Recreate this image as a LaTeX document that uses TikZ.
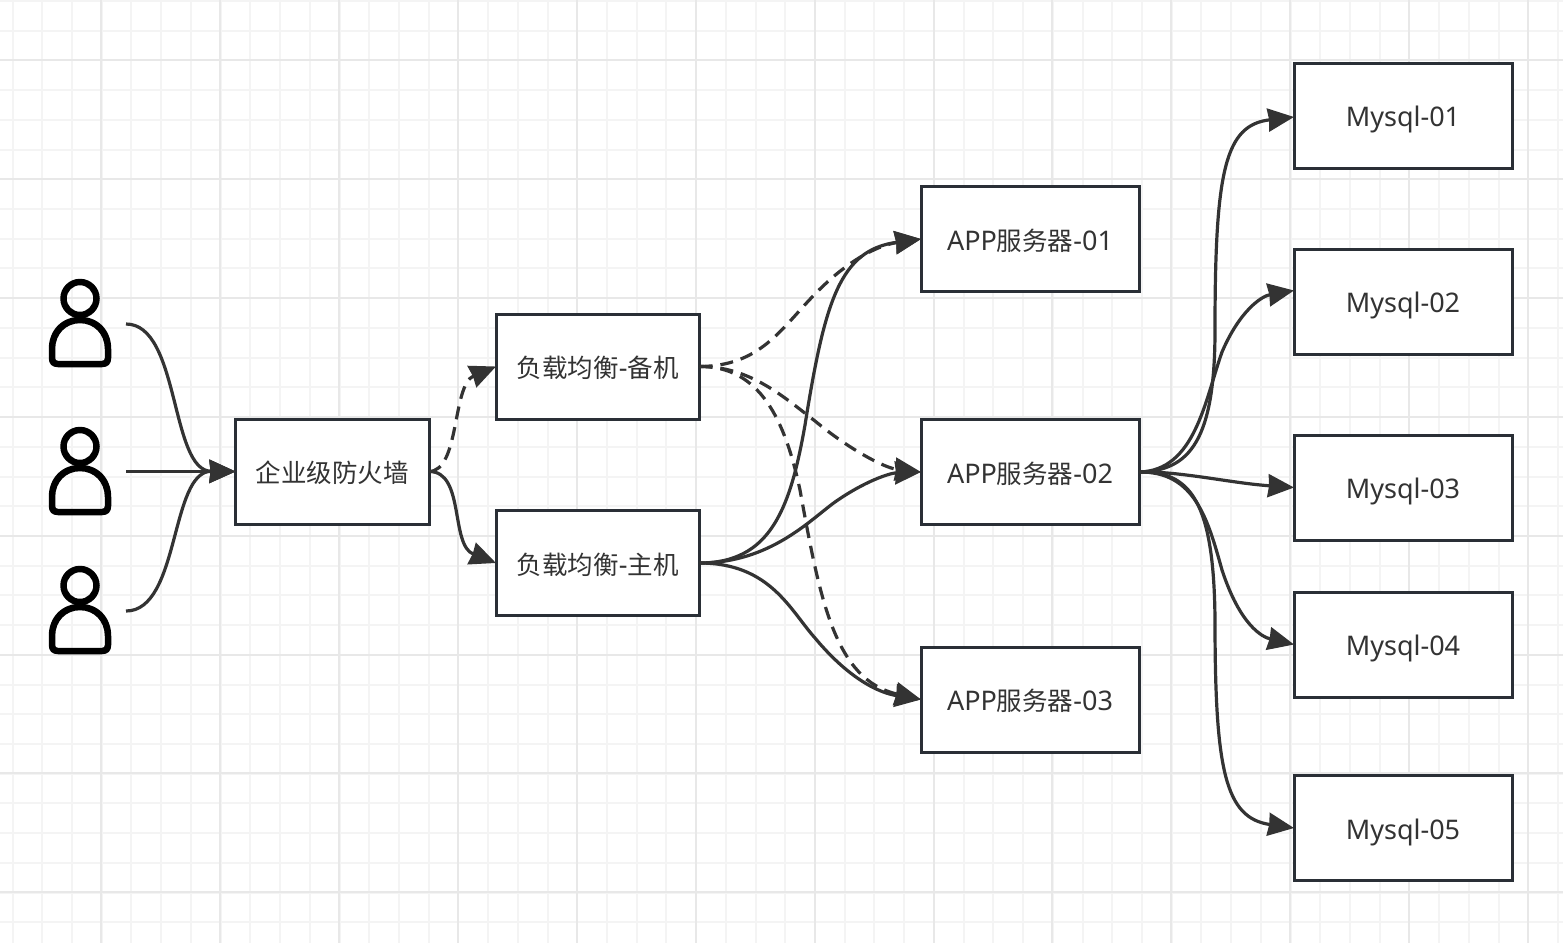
\documentclass[tikz,border=0pt]{standalone}
\usepackage{fontspec}
\setmainfont{Noto Sans}
\newfontfamily\cjk{Noto Sans CJK SC}
\usetikzlibrary{arrows.meta}
\definecolor{ln}{HTML}{333333}
\definecolor{bx}{HTML}{2A2F36}
\definecolor{gmin}{HTML}{F4F4F4}
\definecolor{gmaj}{HTML}{E8E8E8}
\newcommand{\cj}[1]{{\cjk\fontsize{25.5}{28}\selectfont #1}}
\tikzset{
  x=1pt,y=-1pt,
  boxn/.style={draw=bx,line width=3pt,fill=white,outer sep=0pt,minimum width=#1,minimum height=105pt,inner sep=0pt,text height=26pt,text depth=4pt,font=\fontsize{27}{30}\selectfont,text=ln,anchor=north west},
  boxn/.default=218pt,
  conn/.style={draw=ln,line width=3.2pt,-{Stealth[length=26pt,width=23pt,inset=1pt]}},
  dconn/.style={conn,dash pattern=on 13pt off 8pt},
}
\newcommand{\person}[1]{%
  \fill[black,even odd rule] (80,#1+298.5) circle[radius=19.75] (80,#1+298.5) circle[radius=13.25];
  \begin{scope}[shift={(0,#1)}]
  \fill[black,even odd rule]
    (48.75,349) .. controls (48.75,330) and (62,316.75) .. (80,316.75) .. controls (98,316.75) and (111.25,330) .. (111.25,349)
    -- (111.25,358) .. controls (111.25,364) and (108,367.25) .. (102,367.25)
    -- (58,367.25) .. controls (52,367.25) and (48.75,364) .. (48.75,358) -- cycle
    (55.25,349) .. controls (55.25,334) and (66,323.25) .. (80,323.25) .. controls (94,323.25) and (104.75,334) .. (104.75,349)
    -- (104.75,358) .. controls (104.75,360) and (104,360.75) .. (102,360.75)
    -- (58,360.75) .. controls (56,360.75) and (55.25,360) .. (55.25,358) -- cycle;
  \end{scope}
}
\begin{document}
\begin{tikzpicture}
\useasboundingbox (0,0) rectangle (1563,943);
\fill[white] (0,0) rectangle (1563,943);
\foreach \i in {0,...,52}{
  \draw[gmin,line width=2pt] (12.6+29.72*\i,0) -- (12.6+29.72*\i,943);
}
\foreach \i in {0,...,31}{
  \draw[gmin,line width=2pt] (0,1+29.72*\i) -- (1563,1+29.72*\i);
}
\foreach \i in {0,...,12}{
  \draw[gmaj,line width=2pt] (101.2+118.9*\i,0) -- (101.2+118.9*\i,943);
}
\foreach \i in {0,...,7}{
  \draw[gmaj,line width=2pt] (0,60+118.9*\i) -- (1563,60+118.9*\i);
}
\person{0}
\person{148}
\person{287}
\coordinate (ua) at (126,324);
\coordinate (ub) at (126,471.5);
\coordinate (uc) at (126,611);
\node[boxn=193.5pt] (fw) at (235.5,419) {\cj{企业级防火墙}};
\node[boxn=203.5pt] (lb) at (496,314) {\cj{负载均衡}-\cj{备机}};
\node[boxn=203.5pt] (lm) at (496,510.5) {\cj{负载均衡}-\cj{主机}};
\node[boxn] (a1) at (921,186.5) {APP\cj{服务器}-01};
\node[boxn] (a2) at (921,419.5) {APP\cj{服务器}-02};
\node[boxn] (a3) at (921,647) {APP\cj{服务器}-03};
\node[boxn] (m1) at (1294,63) {Mysql-01};
\node[boxn] (m2) at (1294,249) {Mysql-02};
\node[boxn] (m3) at (1294,435) {Mysql-03};
\node[boxn] (m4) at (1294,592) {Mysql-04};
\node[boxn] (m5) at (1294,775.5) {Mysql-05};
% users to firewall
\draw[conn] (ua) .. controls (180,324) and (170,471) .. (fw.west);
\draw[conn] (ub) -- (fw.west);
\draw[conn] (uc) .. controls (180,611) and (170,471) .. (fw.west);
% firewall to lb
\draw[dconn] (fw.east) .. controls (460,471) and (452,385) .. (lb.west);
\draw[conn] (fw.east) .. controls (465,471) and (450,545) .. (lm.west);
% lb to app
\draw[dconn] (lb.east) .. controls (760,366) and (780,330) .. (815,294) .. controls (850,258) and (880,245) .. (a1.west);
\draw[dconn] (lb.east) .. controls (750,366) and (785,398) .. (815,421) .. controls (850,450) and (885,468) .. (a2.west);
\draw[dconn] (lb.east) .. controls (760,366) and (785,420) .. (800,490) .. controls (820,600) and (835,680) .. (a3.west);
\draw[conn] (lm.east) .. controls (770,563) and (790,510) .. (805,425) .. controls (825,300) and (840,250) .. (a1.west);
\draw[conn] (lm.east) .. controls (770,563) and (810,520) .. (835,502) .. controls (865,481) and (890,473) .. (a2.west);
\draw[conn] (lm.east) .. controls (770,563) and (790,610) .. (815,638) .. controls (850,680) and (880,693) .. (a3.west);
% app to mysql
\draw[conn] (a2.east) .. controls (1190,471) and (1215,440) .. (1215,330) .. controls (1215,170) and (1225,125) .. ([yshift=-1.5pt]m1.west);
\draw[conn] (a2.east) .. controls (1195,471) and (1205,400) .. (1222,352) .. controls (1240,310) and (1262,296) .. ([yshift=11pt]m2.west);
\draw[conn] (a2.east) .. controls (1180,471) and (1230,483) .. (m3.west);
\draw[conn] (a2.east) .. controls (1195,471) and (1208,520) .. (1222,570) .. controls (1240,625) and (1262,637) .. (m4.west);
\draw[conn] (a2.east) .. controls (1190,471) and (1214,500) .. (1215,620) .. controls (1215,770) and (1225,818) .. (m5.west);
\end{tikzpicture}
\end{document}
